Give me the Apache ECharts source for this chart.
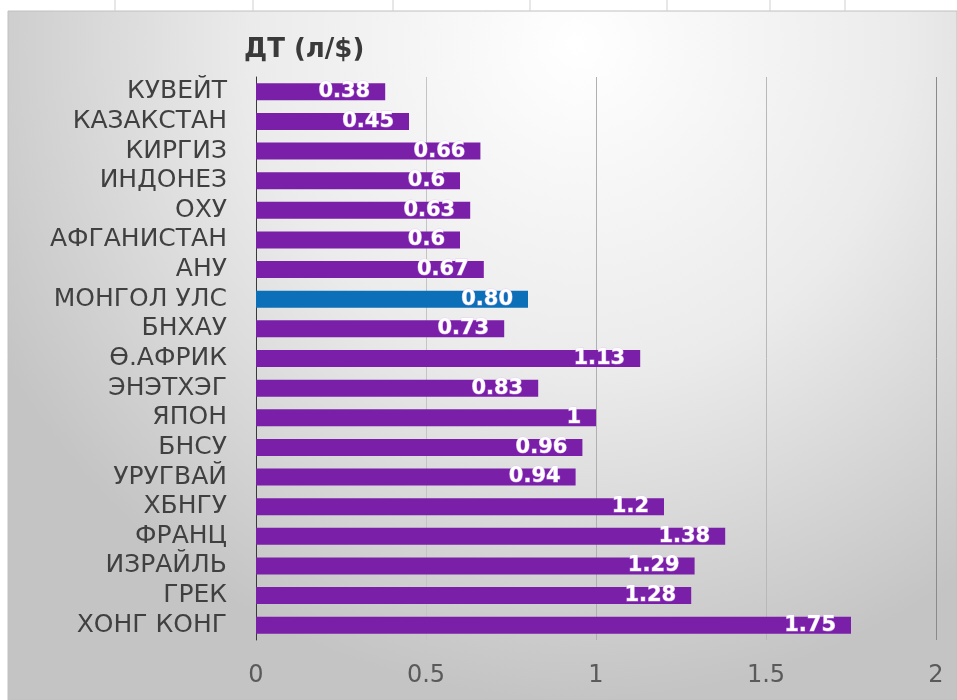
<!DOCTYPE html>
<html>
<head>
<meta charset="utf-8">
<script src="https://cdn.jsdelivr.net/npm/echarts@6/dist/echarts.min.js"></script>
<style>html,body{margin:0;padding:0;background:#fff}#c{width:957px;height:700px}</style>
</head>
<body>
<div id="c"></div>
<script>
const categories = ['КУВЕЙТ','КАЗАКСТАН','КИРГИЗ','ИНДОНЕЗ','ОХУ','АФГАНИСТАН','АНУ','МОНГОЛ УЛС','БНХАУ','Ө.АФРИК','ЭНЭТХЭГ','ЯПОН','БНСУ','УРУГВАЙ','ХБНГУ','ФРАНЦ','ИЗРАЙЛЬ','ГРЕК','ХОНГ КОНГ'];
const values = [0.38,0.45,0.66,0.6,0.63,0.6,0.67,0.80,0.73,1.13,0.83,1,0.96,0.94,1.2,1.38,1.29,1.28,1.75];
const valueLabels = ['0.38','0.45','0.66','0.6','0.63','0.6','0.67','0.80','0.73','1.13','0.83','1','0.96','0.94','1.2','1.38','1.29','1.28','1.75'];
const highlight = 'МОНГОЛ УЛС';
const xTicks = [0, 0.5, 1, 1.5, 2];
const title = 'ДТ (л/$)';

const chart = echarts.init(document.getElementById('c'), null, {renderer: 'canvas'});
const topLines = [115, 253, 393, 530, 667, 770, 845].map(x => ({
  type: 'line', z: -9, silent: true,
  shape: {x1: x, y1: 0, x2: x, y2: 11},
  style: {stroke: '#cfcfcf', lineWidth: 1}
}));
chart.setOption({
  animation: false,
  backgroundColor: '#ffffff',
  graphic: [
    {type: 'rect', z: -10, silent: true, shape: {x: 8, y: 11, width: 949, height: 689},
     style: {fill: {type: 'radial', x: 0.6, y: 0.05, r: 0.95,
       colorStops: [{offset: 0, color: '#ffffff'}, {offset: 0.5, color: '#ebebeb'}, {offset: 1, color: '#c4c4c4'}]},
       stroke: '#c0c0c0', lineWidth: 1}},
    ...topLines
  ],
  title: {
    text: title, left: 239, top: 32,
    textStyle: {fontFamily: 'DejaVu Sans', fontWeight: 'bold', fontSize: 26, color: '#3a3a3a'}
  },
  grid: {left: 256, right: 21, top: 77, bottom: 60, containLabel: false},
  xAxis: {
    type: 'value', min: 0, max: 2, interval: 0.5,
    axisLine: {show: false}, axisTick: {show: false},
    axisLabel: {margin: 24, fontFamily: 'DejaVu Sans', fontSize: 24, color: '#5a5a5a',
      formatter: v => String(xTicks.find(t => Math.abs(t - v) < 1e-9) ?? v)},
    splitLine: {show: true, lineStyle: {color: ['#b8b8b8', '#c4c4c4', '#b0b0b0', '#b8b8b8', '#8a8a8a'], width: 1}}
  },
  yAxis: {
    type: 'category', data: categories, inverse: true,
    axisLine: {show: true, lineStyle: {color: '#3a3a3a', width: 1}},
    axisTick: {show: false},
    axisLabel: {interval: 0, margin: 29, fontFamily: 'DejaVu Sans', fontSize: 25, color: '#404040'}
  },
  series: [{
    type: 'bar',
    data: values.map((v, i) => ({
      value: v,
      itemStyle: {color: categories[i] === highlight ? '#0b70b8' : '#7a1fa8'}
    })),
    barWidth: 17,
    label: {
      show: true, position: 'insideRight', distance: 15,
      formatter: p => valueLabels[p.dataIndex],
      fontFamily: 'DejaVu Sans', fontWeight: 'bold', fontSize: 21, color: '#ffffff',
      textBorderColor: 'rgba(230,190,255,0.6)', textBorderWidth: 1
    }
  }]
});
</script>
</body>
</html>
